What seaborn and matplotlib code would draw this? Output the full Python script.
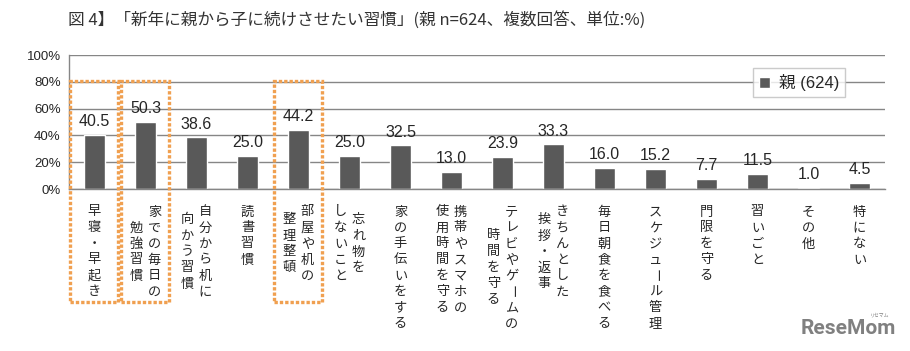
import numpy as np
import pandas as pd
import seaborn as sns
import matplotlib.pyplot as plt
from matplotlib.patches import Rectangle

# categories, each split into its vertical text columns (right column first)
label_columns = [
    ["早寝・早起き"],
    ["家での毎日の", "勉強習慣"],
    ["自分から机に", "向かう習慣"],
    ["読書習慣"],
    ["部屋や机の", "整理整頓"],
    ["忘れ物を", "しないこと"],
    ["家の手伝いをする"],
    ["携帯やスマホの", "使用時間を守る"],
    ["テレビやゲームの", "時間を守る"],
    ["きちんとした", "挨拶・返事"],
    ["毎日朝食を食べる"],
    ["スケジュール管理"],
    ["門限を守る"],
    ["習いごと"],
    ["その他"],
    ["特にない"],
]
values = [40.5, 50.3, 38.6, 25.0, 44.2, 25.0, 32.5, 13.0,
          23.9, 33.3, 16.0, 15.2, 7.7, 11.5, 1.0, 4.5]
series_name = "親 (624)"
highlighted = [0, 1, 4]
y_ticks = [0, 20, 40, 60, 80, 100]
title = "図 4】「新年に親から子に続けさせたい習慣」(親 n=624、複数回答、単位:%)"

bar_color = "#595959"
grid_color = "#868686"
box_color = "#F0A050"
text_color = "#262626"

df = pd.DataFrame({
    "habit": ["".join(c) for c in label_columns],
    "pct": values,
    "series": series_name,
})

sns.set_style("white")
plt.rcParams['font.family'] = ['Liberation Sans', 'Noto Sans CJK JP', 'DejaVu Sans']

fig = plt.figure(figsize=(9.1, 3.51), dpi=100)
ax = fig.add_axes([69 / 910, 1 - 189 / 351, (885 - 69) / 910, (189 - 55) / 351])

sns.barplot(data=df, x="habit", y="pct", hue="series", palette=[bar_color],
            width=0.42, dodge=False, saturation=1, errorbar=None, ax=ax)

ax.set_xlim(-0.5, len(values) - 0.5)
ax.set_ylim(0, 100)
ax.set_yticks(y_ticks)
ax.set_yticklabels([f"{t}%" for t in y_ticks])
ax.set_xlabel("")
ax.set_ylabel("")
ax.yaxis.grid(True, color=grid_color, lw=1)
ax.set_axisbelow(True)
for side in ["top", "right"]:
    ax.spines[side].set_visible(False)
for side in ["left", "bottom"]:
    ax.spines[side].set_color(grid_color)
    ax.spines[side].set_linewidth(1)

ax.set_xticks(range(len(values)))
ax.set_xticklabels([])
ax.tick_params(axis="x", which="major", length=0)
ax.set_xticks(np.arange(-0.5, len(values), 1), minor=True)
ax.tick_params(axis="x", which="minor", length=4, color=grid_color, direction="out")
ax.tick_params(axis="y", length=4, color=grid_color, labelsize=9.5,
               labelcolor=text_color, pad=2)

ax.bar_label(ax.containers[0], fmt="%.1f", padding=4, fontsize=11.5, color=text_color)

# vertical category labels
pitch = 16
for i, cols in enumerate(label_columns):
    maxlen = max(len(c) for c in cols)
    dxs = [0] if len(cols) == 1 else [9, -9]
    for col, dx in zip(cols, dxs):
        start = (maxlen - len(col)) / 2
        for k, ch in enumerate(col):
            dy = -(23 + (start + k) * pitch)
            ax.annotate(ch, xy=(i, 0), xycoords="data",
                        xytext=(dx * 0.72, dy * 0.72), textcoords="offset points",
                        ha="center", va="center", fontsize=9.5,
                        family="Noto Sans CJK JP", color=text_color,
                        rotation=-90 if ch == "ー" else 0,
                        annotation_clip=False)

# orange dotted highlight boxes
for i in highlighted:
    ax.add_patch(Rectangle((i - 0.48, -84), 0.95, 164.6, fill=False,
                           edgecolor=box_color, lw=2.4, linestyle=(0, (1, 0.6)),
                           clip_on=False, zorder=5))

leg = ax.legend(loc="upper left", bbox_to_anchor=(0.838, 0.9), fontsize=12,
                frameon=True, fancybox=False, handlelength=0.7, handleheight=0.7,
                handletextpad=0.5, borderpad=0.35, borderaxespad=0)
leg.get_frame().set_edgecolor("#BFBFBF")
leg.get_frame().set_linewidth(1)
for t in leg.get_texts():
    t.set_color(text_color)

fig.text(68 / 910, 1 - 20 / 351, title, fontsize=12, va="center",
         family=["Noto Sans CJK JP", "DejaVu Sans"], color="#333333")

fig.text(896 / 910, 1 - 329 / 351, "ReseMom", ha="right", va="center",
         fontsize=15, weight="bold", color="#808080", family="Roboto")
fig.text(880 / 910, 1 - 315 / 351, "リセマム", ha="center", va="center",
         fontsize=3.5, color="#808080", family="Noto Sans CJK JP")

fig.savefig("out.png", dpi=100)
